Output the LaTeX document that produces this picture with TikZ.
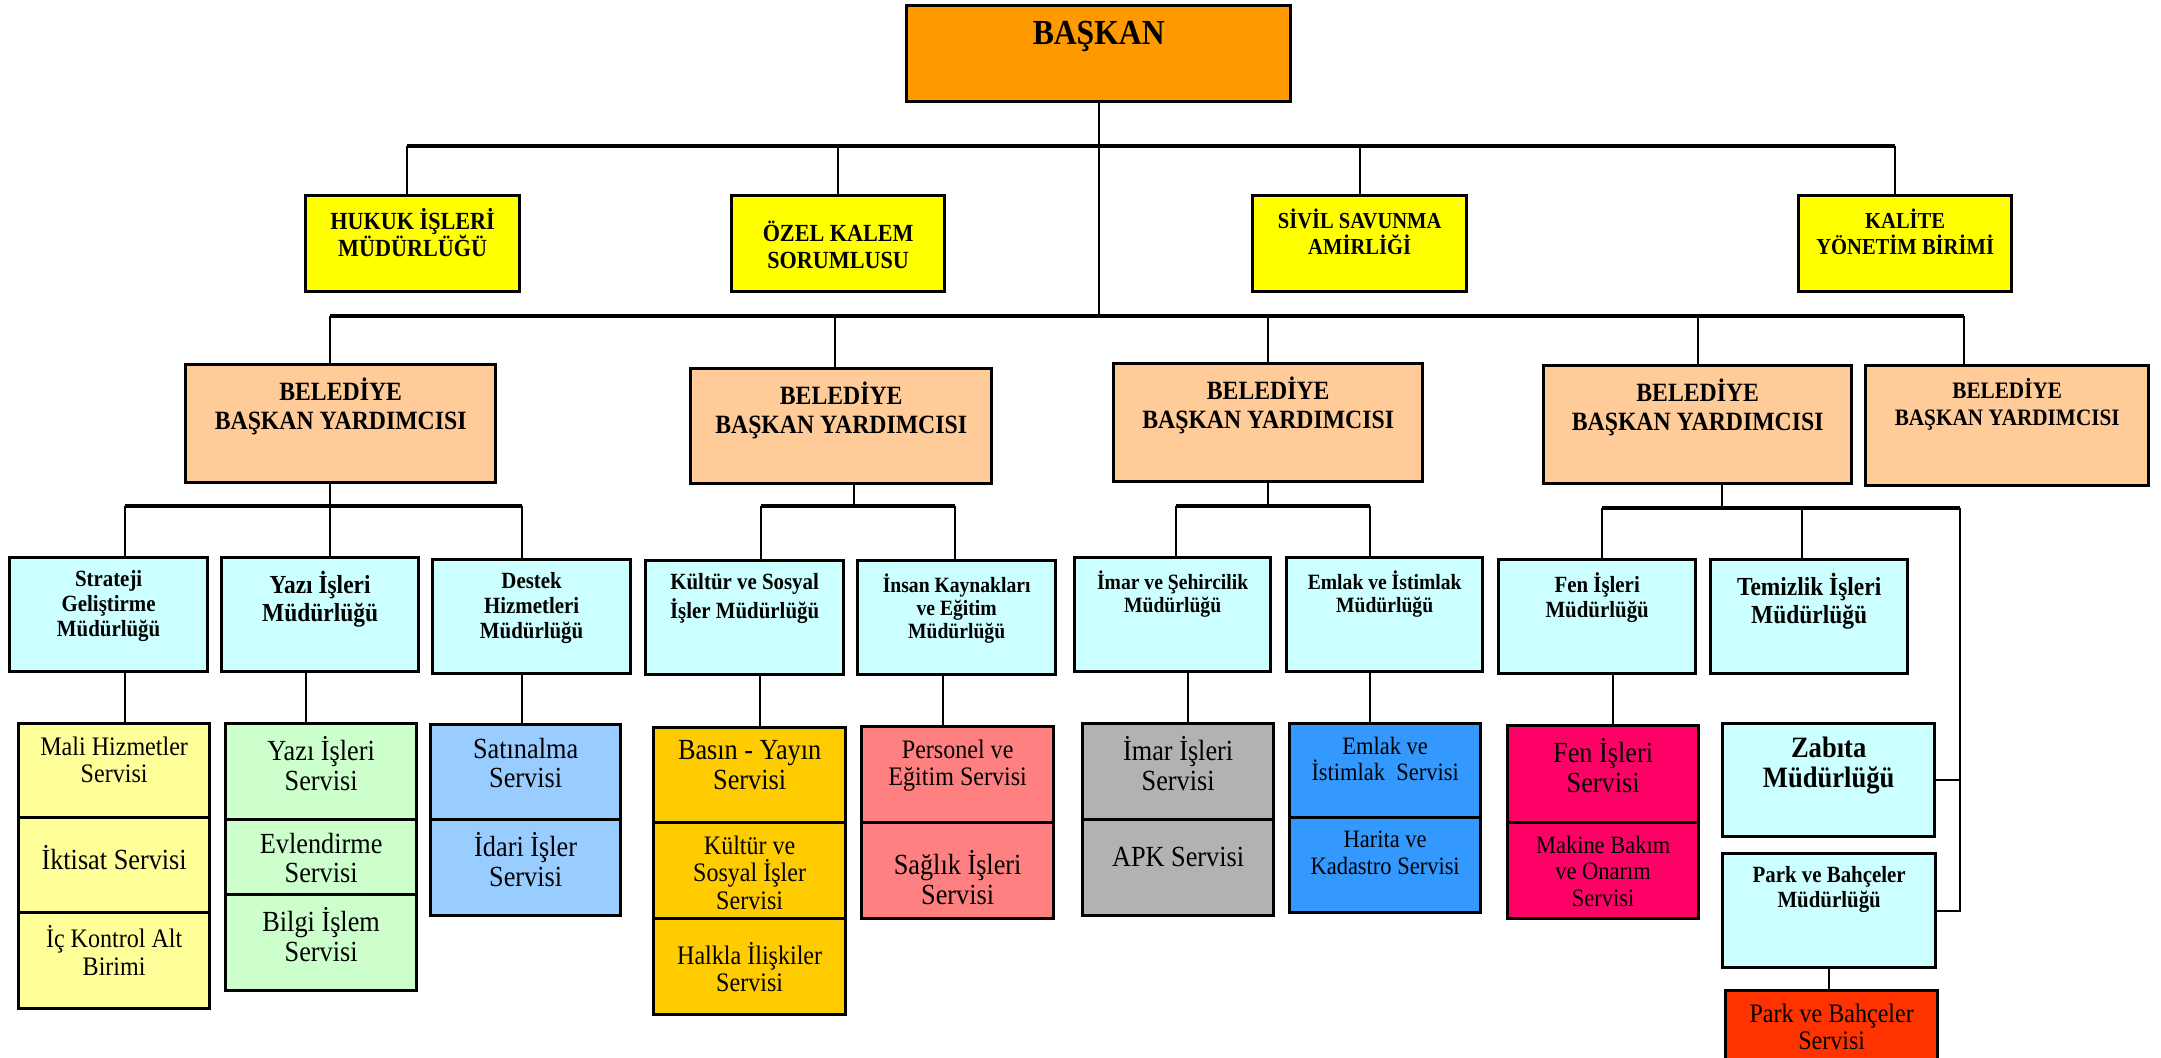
\documentclass[tikz,border=0pt]{standalone}
\usepackage{fontspec}
\setmainfont[FakeStretch=0.9]{Liberation Serif}
\usetikzlibrary{positioning}
\definecolor{turuncu}{HTML}{FF9900}
\definecolor{sari}{HTML}{FFFF00}
\definecolor{ten}{HTML}{FFCC99}
\definecolor{acikmavi}{HTML}{CCFFFF}
\definecolor{krem}{HTML}{FFFF99}
\definecolor{acikyesil}{HTML}{CCFFCC}
\definecolor{gokmavi}{HTML}{99CCFF}
\definecolor{altin}{HTML}{FFCC00}
\definecolor{somon}{HTML}{FF8080}
\definecolor{gri}{HTML}{B2B2B2}
\definecolor{mavi}{HTML}{3399FF}
\definecolor{pembe}{HTML}{FF0066}
\definecolor{kirmizi}{HTML}{FF3300}
\tikzset{
  kutu/.style 2 args={draw, line width=0.9pt, anchor=north west, inner sep=0pt,
    minimum width=#1cm, minimum height=#2cm},
  lb/.style={anchor=north, align=center, inner sep=0pt, yshift=-4pt},
  fa/.style={font=\bfseries\fontsize{10}{11}\selectfont},
  fb/.style={font=\bfseries\fontsize{7}{7.7}\selectfont},
  fbk/.style={font=\bfseries\fontsize{6.5}{7.5}\selectfont},
  fc/.style={font=\bfseries\fontsize{7.5}{8.2}\selectfont},
  fck/.style={font=\bfseries\fontsize{6.7}{7.5}\selectfont},
  fd/.style={font=\bfseries\fontsize{6.6}{7}\selectfont},
  fdk/.style={font=\bfseries\fontsize{6.2}{6.6}\selectfont},
  fe/.style={font=\bfseries\fontsize{7.4}{8}\selectfont},
  fz/.style={font=\bfseries\fontsize{8.4}{8.6}\selectfont},
  ff/.style={font=\fontsize{8.3}{8.5}\selectfont},
  fg/.style={font=\fontsize{7.6}{7.8}\selectfont},
  fh/.style={font=\fontsize{7.1}{7.6}\selectfont},
  bag/.style={line width=0.6pt},
  hat/.style={line width=0.9pt},
}
\begin{document}
\begin{tikzpicture}[x=0.01cm, y=-0.01cm]
\useasboundingbox (0,0) rectangle (2161,1058);

% baskan ve ust birimler
\node[kutu={3.84}{0.96}, fill=turuncu, label={[lb,fa,yshift=-0.8pt]north:BAŞKAN}] (baskan) at (905,4) {};
\node[kutu={2.14}{0.96}, fill=sari, label={[lb,fb]north:HUKUK İŞLERİ\\MÜDÜRLÜĞÜ}] (hukuk) at (304,194) {};
\node[kutu={2.13}{0.96}, fill=sari, label={[lb,fb,yshift=-3.5pt]north:ÖZEL KALEM\\SORUMLUSU}] (ozel) at (730,194) {};
\node[kutu={2.14}{0.96}, fill=sari, label={[lb,fbk]north:SİVİL SAVUNMA\\AMİRLİĞİ}] (sivil) at (1251,194) {};
\node[kutu={2.13}{0.96}, fill=sari, label={[lb,fbk]north:KALİTE\\YÖNETİM BİRİMİ}] (kalite) at (1797,194) {};

% baskan yardimcilari
\node[kutu={3.10}{1.18}, fill=ten, label={[lb,fc]north:BELEDİYE\\BAŞKAN YARDIMCISI}] (bby1) at (184,363) {};
\node[kutu={3.01}{1.15}, fill=ten, label={[lb,fc]north:BELEDİYE\\BAŞKAN YARDIMCISI}] (bby2) at (689,367) {};
\node[kutu={3.09}{1.18}, fill=ten, label={[lb,fc]north:BELEDİYE\\BAŞKAN YARDIMCISI}] (bby3) at (1112,362) {};
\node[kutu={3.08}{1.18}, fill=ten, label={[lb,fc]north:BELEDİYE\\BAŞKAN YARDIMCISI}] (bby4) at (1542,364) {};
\node[kutu={2.83}{1.20}, fill=ten, label={[lb,fck]north:BELEDİYE\\BAŞKAN YARDIMCISI}] (bby5) at (1864,364) {};

% mudurlukler
\node[kutu={1.98}{1.14}, fill=acikmavi, label={[lb,fd]north:Strateji\\Geliştirme\\Müdürlüğü}] (strateji) at (8,556) {};
\node[kutu={1.97}{1.14}, fill=acikmavi, label={[lb,fe]north:Yazı İşleri\\Müdürlüğü}] (yazimd) at (220,556) {};
\node[kutu={1.98}{1.14}, fill=acikmavi, label={[lb,fd]north:Destek\\Hizmetleri\\Müdürlüğü}] (destek) at (431,558) {};
\node[kutu={1.98}{1.14}, fill=acikmavi, label={[lb,fd]north:Kültür ve Sosyal\\İşler Müdürlüğü}] (kulturmd) at (644,559) {};
\node[kutu={1.98}{1.14}, fill=acikmavi, label={[lb,fdk]north:İnsan Kaynakları\\ve Eğitim\\Müdürlüğü}] (insan) at (856,559) {};
\node[kutu={1.96}{1.14}, fill=acikmavi, label={[lb,fdk]north:İmar ve Şehircilik\\Müdürlüğü}] (imarmd) at (1073,556) {};
\node[kutu={1.96}{1.14}, fill=acikmavi, label={[lb,fdk]north:Emlak ve İstimlak\\Müdürlüğü}] (emlakmd) at (1285,556) {};
\node[kutu={1.97}{1.14}, fill=acikmavi, label={[lb,fd]north:Fen İşleri\\Müdürlüğü}] (fenmd) at (1497,558) {};
\node[kutu={1.97}{1.14}, fill=acikmavi, label={[lb,fe]north:Temizlik İşleri\\Müdürlüğü}] (temizlik) at (1709,558) {};
\node[kutu={2.12}{1.13}, fill=acikmavi, label={[lb,fz]north:Zabıta\\Müdürlüğü}] (zabita) at (1721,722) {};
\node[kutu={2.13}{1.14}, fill=acikmavi, label={[lb,fd]north:Park ve Bahçeler\\Müdürlüğü}] (parkmd) at (1721,852) {};

% servisler
\node[kutu={1.91}{0.94}, fill=krem, label={[lb,fg]north:Mali Hizmetler\\Servisi}] (mali) at (17,722) {};
\node[kutu={1.91}{0.95}, fill=krem, label={[lb,ff,yshift=-4.2pt]north:İktisat Servisi}] (iktisat) at (17,816) {};
\node[kutu={1.91}{0.96}, fill=krem, label={[lb,fg]north:İç Kontrol Alt\\Birimi}] (ickontrol) at (17,911) {};
\node[kutu={1.91}{0.96}, fill=acikyesil, label={[lb,ff]north:Yazı İşleri\\Servisi}] (yaziserv) at (224,722) {};
\node[kutu={1.91}{0.75}, fill=acikyesil, label={[lb,ff]north:Evlendirme\\Servisi}] (evlendirme) at (224,818) {};
\node[kutu={1.91}{0.96}, fill=acikyesil, label={[lb,ff]north:Bilgi İşlem\\Servisi}] (bilgi) at (224,893) {};
\node[kutu={1.90}{0.95}, fill=gokmavi, label={[lb,ff]north:Satınalma\\Servisi}] (satinalma) at (429,723) {};
\node[kutu={1.90}{0.96}, fill=gokmavi, label={[lb,ff]north:İdari İşler\\Servisi}] (idari) at (429,818) {};
\node[kutu={1.92}{0.95}, fill=altin, label={[lb,ff]north:Basın - Yayın\\Servisi}] (basin) at (652,726) {};
\node[kutu={1.92}{0.96}, fill=altin, label={[lb,fg]north:Kültür ve\\Sosyal İşler\\Servisi}] (kultserv) at (652,821) {};
\node[kutu={1.92}{0.96}, fill=altin, label={[lb,fg,yshift=-3pt]north:Halkla İlişkiler\\Servisi}] (halkla) at (652,917) {};
\node[kutu={1.92}{0.96}, fill=somon, label={[lb,fg]north:Personel ve\\Eğitim Servisi}] (personel) at (860,725) {};
\node[kutu={1.92}{0.96}, fill=somon, label={[lb,ff,yshift=-4.2pt]north:Sağlık İşleri\\Servisi}] (saglik) at (860,821) {};
\node[kutu={1.91}{0.96}, fill=gri, label={[lb,ff]north:İmar İşleri\\Servisi}] (imarserv) at (1081,722) {};
\node[kutu={1.91}{0.96}, fill=gri, label={[lb,ff,yshift=-4.2pt]north:APK Servisi}] (apk) at (1081,818) {};
\node[kutu={1.91}{0.94}, fill=mavi, label={[lb,fh]north:Emlak ve\\İstimlak\ \ Servisi}] (emlakserv) at (1288,722) {};
\node[kutu={1.91}{0.95}, fill=mavi, label={[lb,fh]north:Harita ve\\Kadastro Servisi}] (harita) at (1288,816) {};
\node[kutu={1.91}{0.97}, fill=pembe, label={[lb,ff]north:Fen İşleri\\Servisi}] (fenserv) at (1506,724) {};
\node[kutu={1.91}{0.96}, fill=pembe, label={[lb,fh]north:Makine Bakım\\ve Onarım\\Servisi}] (makine) at (1506,821) {};
\node[kutu={2.12}{1.00}, fill=kirmizi, label={[lb,fg]north:Park ve Bahçeler\\Servisi}] (parkserv) at (1724,989) {};

% baglanti noktalari
\coordinate (bus1) at (0,146);
\coordinate (bus2) at (0,316);
\coordinate (bus3) at (0,506);
\coordinate (sag) at (1960,508);
\foreach \n/\d in {hukuk/-0.06, ozel/0, sivil/0, kalite/-0.105, bby1/-0.11, bby2/-0.065,
    bby3/0, bby4/0, bby5/-0.43, strateji/0.16, destek/-0.1, kulturmd/0.16, insan/-0.02,
    imarmd/0.03, emlakmd/-0.15, fenmd/0.05, temizlik/-0.075}
  \coordinate (u\n) at ([xshift=\d cm]\n.north);
\foreach \n/\d in {baskan/0, bby1/-0.11, bby2/0.125, bby3/0, bby4/0.245, strateji/0.16,
    yazimd/-0.145, destek/-0.1, kulturmd/0.15, insan/-0.14, imarmd/0.15, emlakmd/-0.15,
    fenmd/0.155, parkmd/0}
  \coordinate (d\n) at ([xshift=\d cm]\n.south);

% baglantilar
\draw[bag] (dbaskan) -- (dbaskan |- bus2);
\draw[hat] (uhukuk |- bus1) -- (ukalite |- bus1);
\foreach \n in {hukuk,ozel,sivil,kalite} \draw[bag] (u\n) -- (u\n |- bus1);
\draw[hat] (ubby1 |- bus2) -- (ubby5 |- bus2);
\foreach \n in {bby1,bby2,bby3,bby4,bby5} \draw[bag] (u\n) -- (u\n |- bus2);

\draw[hat] (ustrateji |- bus3) -- (udestek |- bus3);
\draw[hat] (ukulturmd |- bus3) -- (uinsan |- bus3);
\draw[hat] (uimarmd |- bus3) -- (uemlakmd |- bus3);
\draw[hat] (ufenmd |- sag) -- (sag);
\foreach \n in {strateji,destek,kulturmd,insan,imarmd,emlakmd} \draw[bag] (u\n) -- (u\n |- bus3);
\foreach \n in {fenmd,temizlik} \draw[bag] (u\n) -- (u\n |- sag);
\draw[bag] (dbby1) -- (dbby1 |- yazimd.north);
\foreach \n in {bby2,bby3} \draw[bag] (d\n) -- (d\n |- bus3);
\draw[bag] (dbby4) -- (dbby4 |- sag);
\draw[bag] (sag) -- (sag |- parkmd.east) -- (parkmd.east);
\draw[bag] (zabita.east) -- (zabita.east -| sag);

\foreach \a/\b in {strateji/mali, yazimd/yaziserv, destek/satinalma, kulturmd/basin, insan/personel,
    imarmd/imarserv, emlakmd/emlakserv, fenmd/fenserv, parkmd/parkserv}
  \draw[bag] (d\a) -- (d\a |- \b.north);
\end{tikzpicture}
\end{document}
